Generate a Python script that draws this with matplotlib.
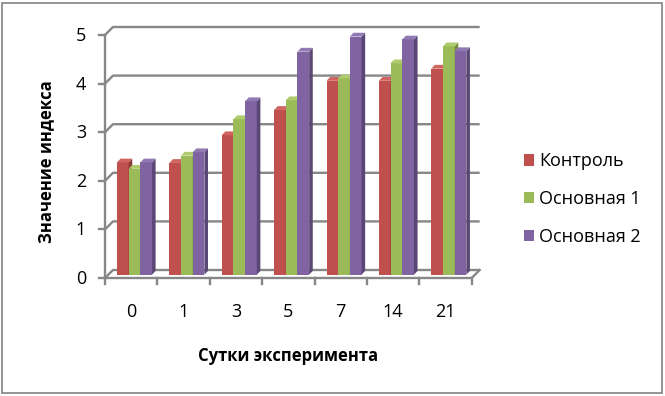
import matplotlib
matplotlib.use("Agg")
import matplotlib.pyplot as plt
from matplotlib.patches import Polygon, Patch, Rectangle
import numpy as np

categories = ["0", "1", "3", "5", "7", "14", "21"]
series_names = ["Контроль", "Основная 1", "Основная 2"]
kontrol = [2.31, 2.30, 2.87, 3.39, 3.99, 3.99, 4.24]
osn1 = [2.18, 2.45, 3.20, 3.59, 4.04, 4.35, 4.70]
osn2 = [2.31, 2.52, 3.57, 4.59, 4.90, 4.84, 4.60]
yticks = [0, 1, 2, 3, 4, 5]

front_cols = ["#C0504D", "#9BBB59", "#8064A2"]
side_cols = ["#8C3836", "#71893F", "#5B4775"]
top_cols = ["#CF6461", "#AECB6E", "#9179B3"]

FONT = ["Open Sans", "DejaVu Sans"]
plt.rcParams["font.family"] = FONT

W, H = 665, 396
fig = plt.figure(figsize=(W / 100, H / 100), dpi=100)
fig.patch.set_facecolor("white")

# outer border
fig.patches.append(Rectangle((2 / W, 3 / H), 660 / W, 390 / H, transform=fig.transFigure,
                             fill=False, edgecolor="#8C8C8C", linewidth=1.3))

# axes placement: x in [-0.5, 6.5] -> px 105..471.7 ; y in [0,5] -> px 278..35 (from top)
x0px, x1px = 105, 471.7
y0px, y5px = 278, 35
ax = fig.add_axes([x0px / W, (H - y0px) / H, (x1px - x0px) / W, (y0px - y5px) / H])
ax.set_xlim(-0.5, 6.5)
ax.set_ylim(0, 5)
ax.axis("off")

pxx = (x1px - x0px) / 7.0
pxy = (y0px - y5px) / 5.0
dx, dy = 8 / pxx, 8 / pxy          # wall depth offset
grid_c = "#878787"
glw = 1.7

n = len(categories)
xs = np.arange(n)
# gridlines on back wall with left wall slant
for v in yticks:
    ax.plot([-0.5, -0.5 + dx, n - 0.5 + dx], [v, v + dy, v + dy], color=grid_c, lw=glw,
            solid_capstyle="butt", zorder=1, clip_on=False)
    # y ticks
    ax.plot([-0.5 - 6 / pxx, -0.5], [v, v], color=grid_c, lw=glw, zorder=1, clip_on=False)
    ax.text(-0.5 - 19 / pxx, v - 1 / pxy, str(v), ha="right", va="center", fontsize=13,
            color="black")
# front floor edge, left axis, right floor diagonal
ax.plot([-0.5, n - 0.5, n - 0.5 + dx], [0, 0, dy], color=grid_c, lw=glw, zorder=1, clip_on=False)
ax.plot([-0.5, -0.5], [0, 5], color=grid_c, lw=glw, zorder=1, clip_on=False)
# x ticks
for b in np.arange(-0.5, n, 1.0):
    ax.plot([b, b], [0, -6 / pxy], color=grid_c, lw=glw, zorder=1, clip_on=False)
for i, c in enumerate(categories):
    ax.text(i, -34 / pxy, c, ha="center", va="center", fontsize=13, color="black")

# bars
w = 0.223
dxb, dyb = 3.3 / pxx, 3.3 / pxy     # depth offset of bar front faces
ddx, ddy = 3.6 / pxx, 3.8 / pxy     # bar depth
data = [kontrol, osn1, osn2]
for j, vals in enumerate(data):
    xc = xs + (j - 1) * w + dxb
    ax.bar(xc, vals, width=w, bottom=dyb, color=front_cols[j], edgecolor="none",
           zorder=3 + j, clip_on=False)
    for xcc, v in zip(xc, vals):
        l, r = xcc - w / 2, xcc + w / 2
        t = v + dyb
        ax.add_patch(Polygon([(r, dyb), (r + ddx, dyb + ddy), (r + ddx, t + ddy), (r, t)],
                             closed=True, facecolor=side_cols[j], edgecolor="none",
                             zorder=3 + j, clip_on=False))
        ax.add_patch(Polygon([(l, t), (r, t), (r + ddx, t + ddy), (l + ddx, t + ddy)],
                             closed=True, facecolor=top_cols[j], edgecolor="none",
                             zorder=3 + j, clip_on=False))

# axis titles
fig.text(288 / W, 1 - 356 / H, "Сутки эксперимента", ha="center", va="center",
         fontsize=12, fontweight="bold")
fig.text(46 / W, 1 - 162 / H, "Значение индекса", ha="center", va="center",
         rotation=90, fontsize=12, fontweight="bold")

# legend
handles = [Patch(facecolor=c, edgecolor="none") for c in front_cols]
fig.legend(handles, series_names, loc="center left", bbox_to_anchor=(524 / W, 1 - 199 / H),
           frameon=False, fontsize=13, handlelength=0.55, handleheight=0.6,
           handletextpad=0.3, labelspacing=1.1, borderaxespad=0, borderpad=0)

fig.savefig("out.png", dpi=100, facecolor="white")
